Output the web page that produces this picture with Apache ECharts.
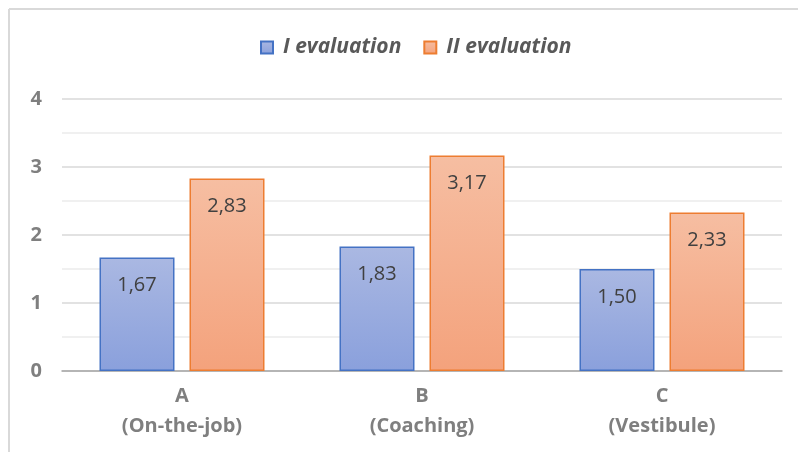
<!DOCTYPE html>
<html>
<head>
<meta charset="utf-8">
<script src="https://cdn.jsdelivr.net/npm/echarts@6/dist/echarts.min.js"></script>
<style>
html,body{margin:0;padding:0;background:#fff;}
#c{width:798px;height:452px;}
</style>
</head>
<body>
<div id="c"></div>
<script>
const categories = ['A\n(On-the-job)', 'B\n(Coaching)', 'C\n(Vestibule)'];
const seriesNames = ['I evaluation', 'II evaluation'];
const evaluation1 = [1.67, 1.83, 1.50];
const evaluation2 = [2.83, 3.17, 2.33];
const yTicks = [0, 1, 2, 3, 4];

const chart = echarts.init(document.getElementById('c'), null, {renderer: 'canvas'});
const fmt = p => p.value.toFixed(2).replace('.', ',');
const font = 'Open Sans, Noto Sans, sans-serif';

function grad(top, bottom) {
  return new echarts.graphic.LinearGradient(0, 0, 0, 1, [
    {offset: 0, color: top}, {offset: 1, color: bottom}
  ]);
}

chart.setOption({
  animation: false,
  backgroundColor: '#fff',
  graphic: [
    {type: 'line', shape: {x1: 9, y1: 9, x2: 798, y2: 9}, style: {stroke: '#d9d9d9', lineWidth: 2}},
    {type: 'line', shape: {x1: 9, y1: 9, x2: 9, y2: 452}, style: {stroke: '#d9d9d9', lineWidth: 2}}
  ],
  legend: {
    top: 32,
    left: 255,
    icon: 'rect',
    itemWidth: 12,
    itemHeight: 12,
    itemGap: 22,
    textStyle: {fontFamily: font, fontSize: 21, fontStyle: 'italic', fontWeight: 'bold', color: '#595959',
      padding: [0, 0, 0, 5]},
    data: seriesNames
  },
  grid: {left: 62, right: 16, top: 99, bottom: 81},
  xAxis: {
    type: 'category',
    data: categories,
    axisTick: {show: false},
    axisLine: {lineStyle: {color: '#a6a6a6', width: 1.5}},
    axisLabel: {
      margin: 10,
      lineHeight: 30,
      fontFamily: font, fontSize: 20, fontWeight: 'bold', color: '#7f7f7f'
    }
  },
  yAxis: {
    type: 'value',
    min: yTicks[0],
    max: yTicks[yTicks.length - 1],
    interval: 1,
    axisLine: {show: false},
    axisTick: {show: false},
    axisLabel: {margin: 20, fontFamily: font, fontSize: 20, fontWeight: 'bold', color: '#7f7f7f'},
    splitLine: {lineStyle: {color: '#d9d9d9', width: 1.5}},
    minorTick: {show: false, splitNumber: 2},
    minorSplitLine: {show: true, lineStyle: {color: '#ececec', width: 1.5}}
  },
  series: [
    {
      name: seriesNames[0],
      type: 'bar',
      data: evaluation1,
      barWidth: 75,
      barGap: '20%',
      itemStyle: {color: grad('#aab8e2', '#8aa0dc'), borderColor: '#4472c4', borderWidth: 1.5},
      label: {show: true, position: 'insideTop', distance: 18, formatter: fmt,
        fontFamily: font, fontSize: 20, color: '#404040'}
    },
    {
      name: seriesNames[1],
      type: 'bar',
      data: evaluation2,
      barWidth: 75,
      barGap: '20%',
      itemStyle: {color: grad('#f6bea2', '#f4a27c'), borderColor: '#ed7d31', borderWidth: 1.5},
      label: {show: true, position: 'insideTop', distance: 18, formatter: fmt,
        fontFamily: font, fontSize: 20, color: '#404040'}
    }
  ]
});
</script>
</body>
</html>
